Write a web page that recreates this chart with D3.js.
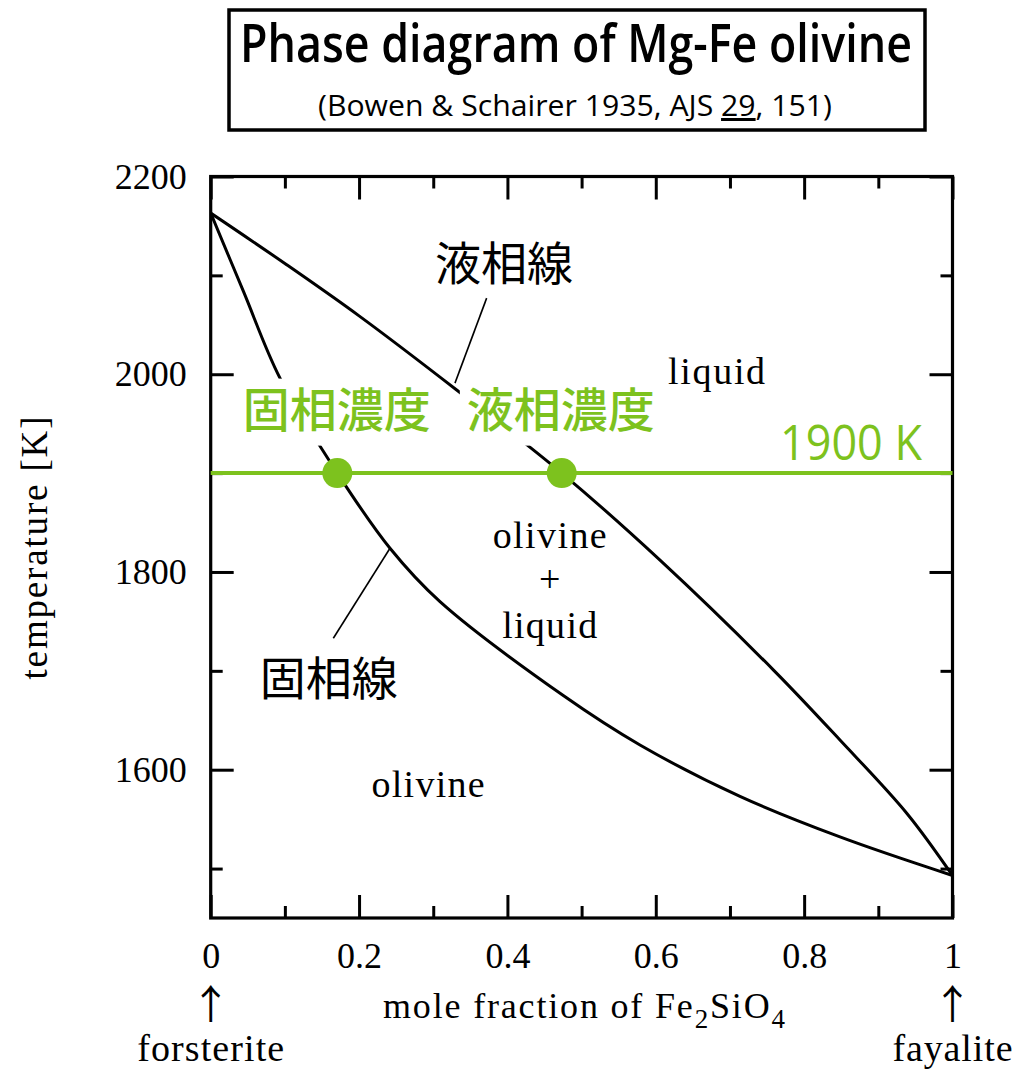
<!DOCTYPE html>
<html><head><meta charset="utf-8">
<script src="https://cdn.jsdelivr.net/npm/d3@7"></script>
<style>html,body{margin:0;padding:0;background:#fff;}</style>
</head><body><svg id="chart" width="1028" height="1071"></svg>
<script>
// ---- data ----
const liquidusX = [0, 0.1, 0.2, 0.3316, 0.4732, 0.6057, 0.7584, 0.8483, 0.9383, 1];
const liquidusT = [2163, 2112, 2059, 1984, 1900, 1812, 1701, 1630, 1556, 1493];
const solidusX = [0, 0.044, 0.0934, 0.1707, 0.2417, 0.3091, 0.4753, 0.5787, 0.7135, 0.8483, 1];
const solidusT = [2163, 2084, 1996, 1900, 1824, 1770, 1675, 1625, 1573, 1532, 1493];
const xMajor = [0, 0.2, 0.4, 0.6, 0.8, 1];
const xTickLabels = ["0", "0.2", "0.4", "0.6", "0.8", "1"];
const xMinor = [0.1, 0.3, 0.5, 0.7, 0.9];
const yMajor = [1600, 1800, 2000, 2200];
const yTickLabels = ["1600", "1800", "2000", "2200"];
const yMinor = [1500, 1700, 1900, 2100];
const isothermT = 1900;
const tieComps = [0.1707, 0.4732];           // solid, liquid composition at 1900 K
const regionLabels = ["liquid", "olivine", "+", "liquid", "olivine"];
const regionX = [0.682, 0.457, 0.457, 0.457, 0.293];
const regionT = [1990, 1824, 1780, 1733, 1572.5];
const curveNames = ["液相線", "固相線"];
const curveNameX = [0.3955, 0.159];
const curveNameT = [2095, 1675.6];
const pointerFrom = [[0.372, 2077], [0.2417, 1824]];
const pointerTo = [[0.3293, 1991], [0.1653, 1733]];
const compNames = ["固相濃度", "液相濃度"];
const compNameX = [0.170, 0.472];
const compNameT = [1947, 1947];

const green = "#7dc21e";
const serif = "'Liberation Serif', 'Times New Roman', serif";
const sans = "'Open Sans', 'Noto Sans', sans-serif";
const cjk = "'Noto Sans CJK JP', 'Noto Sans CJK SC', sans-serif";

const svg = d3.select("#chart");
const x = d3.scaleLinear().domain([0, 1]).range([210.7, 952.5]);
const y = d3.scaleLinear().domain([1450, 2200]).range([918, 176.5]);

// ---- title box ----
svg.append("rect").attr("x", 229).attr("y", 10).attr("width", 696).attr("height", 120)
  .attr("fill", "#fff").attr("stroke", "#000").attr("stroke-width", 3.5);
svg.append("text").attr("x", 576).attr("y", 62).attr("text-anchor", "middle")
  .attr("font-family", sans).attr("font-weight", 600).attr("font-size", 53)
  .attr("textLength", 672).attr("lengthAdjust", "spacingAndGlyphs")
  .text("Phase diagram of Mg-Fe olivine");
const sub = svg.append("text").attr("x", 575).attr("y", 116).attr("text-anchor", "middle")
  .attr("font-family", sans).attr("font-size", 30)
  .attr("textLength", 514).attr("lengthAdjust", "spacingAndGlyphs");
sub.append("tspan").text("(Bowen & Schairer 1935, AJS ");
sub.append("tspan").attr("text-decoration", "underline").text("29");
sub.append("tspan").text(", 151)");

// ---- clip ----
svg.append("clipPath").attr("id", "plotclip").append("rect")
  .attr("x", x(0)).attr("y", y(2200)).attr("width", x(1) - x(0)).attr("height", y(1450) - y(2200));

const plot = svg.append("g").attr("clip-path", "url(#plotclip)");
const line = d3.line().x(d => x(d[0])).y(d => y(d[1])).curve(d3.curveCatmullRom.alpha(0.5));
plot.append("path").datum(liquidusX.map((v, i) => [v, liquidusT[i]]))
  .attr("d", line).attr("fill", "none").attr("stroke", "#000").attr("stroke-width", 3);
plot.append("path").datum(solidusX.map((v, i) => [v, solidusT[i]]))
  .attr("d", line).attr("fill", "none").attr("stroke", "#000").attr("stroke-width", 3);

// pointer lines
pointerFrom.forEach((p, i) => {
  svg.append("line").attr("x1", x(p[0])).attr("y1", y(p[1]))
    .attr("x2", x(pointerTo[i][0])).attr("y2", y(pointerTo[i][1]))
    .attr("stroke", "#000").attr("stroke-width", 1.6);
});

// ---- axes ----
function styleAxis(g) {
  g.select(".domain").remove();
  g.selectAll(".tick line").attr("stroke", "#000").attr("stroke-width", 3);
  g.selectAll(".tick text").attr("fill", "#000");
  g.attr("font-family", serif).attr("font-size", 36);
}
svg.append("g").attr("transform", `translate(0,${y(1450)})`)
  .call(d3.axisBottom(x).tickValues(xMajor).tickFormat((d, i) => xTickLabels[i]).tickSize(-23).tickPadding(24)).call(styleAxis);
svg.append("g").attr("transform", `translate(0,${y(1450)})`)
  .call(d3.axisBottom(x).tickValues(xMinor).tickFormat("").tickSize(-12)).call(styleAxis);
svg.append("g").attr("transform", `translate(0,${y(2200)})`)
  .call(d3.axisTop(x).tickValues(xMajor).tickFormat("").tickSize(-23)).call(styleAxis);
svg.append("g").attr("transform", `translate(0,${y(2200)})`)
  .call(d3.axisTop(x).tickValues(xMinor).tickFormat("").tickSize(-12)).call(styleAxis);
svg.append("g").attr("transform", `translate(${x(0)},0)`)
  .call(d3.axisLeft(y).tickValues(yMajor).tickFormat((d, i) => yTickLabels[i]).tickSize(-23).tickPadding(24)).call(styleAxis);
svg.append("g").attr("transform", `translate(${x(0)},0)`)
  .call(d3.axisLeft(y).tickValues(yMinor).tickFormat("").tickSize(-12)).call(styleAxis);
svg.append("g").attr("transform", `translate(${x(1)},0)`)
  .call(d3.axisRight(y).tickValues(yMajor).tickFormat("").tickSize(-23)).call(styleAxis);
svg.append("g").attr("transform", `translate(${x(1)},0)`)
  .call(d3.axisRight(y).tickValues(yMinor).tickFormat("").tickSize(-12)).call(styleAxis);

// frame
svg.append("rect").attr("x", x(0)).attr("y", y(2200)).attr("width", x(1) - x(0)).attr("height", y(1450) - y(2200))
  .attr("fill", "none").attr("stroke", "#000").attr("stroke-width", 3.2);

// ---- region labels ----
const regionW = [97, 114, 0, 95, 113];
regionLabels.forEach((t, i) => {
  const el = svg.append("text").attr("x", x(regionX[i])).attr("y", y(regionT[i]))
    .attr("text-anchor", "middle").attr("font-family", serif).attr("font-size", 38).text(t);
  if (regionW[i]) el.attr("textLength", regionW[i]).attr("lengthAdjust", "spacing");
});

// curve names
curveNames.forEach((t, i) => {
  svg.append("text").attr("x", x(curveNameX[i])).attr("y", y(curveNameT[i]))
    .attr("text-anchor", "middle").attr("font-family", cjk).attr("font-size", 46).attr("fill", "#000").text(t);
});

// ---- 1900 K isotherm ----
compNames.forEach((t, i) => {
  const cx = x(compNameX[i]), cy = y(compNameT[i]);
  svg.append("rect").attr("x", cx - 101).attr("y", cy - 48).attr("width", 202).attr("height", 67).attr("fill", "#fff");
  svg.append("text").attr("x", cx).attr("y", cy).attr("text-anchor", "middle")
    .attr("font-family", cjk).attr("font-weight", 500).attr("font-size", 47).attr("fill", green).text(t);
});
svg.append("line").attr("x1", x(0)).attr("x2", x(1)).attr("y1", y(isothermT)).attr("y2", y(isothermT))
  .attr("stroke", green).attr("stroke-width", 4);
svg.selectAll("circle.tie").data(tieComps).join("circle").attr("class", "tie")
  .attr("cx", d => x(d)).attr("cy", y(isothermT)).attr("r", 15).attr("fill", green);
svg.append("text").attr("x", 922).attr("y", 460).attr("text-anchor", "end")
  .attr("font-family", sans).attr("font-weight", 500).attr("font-size", 50).attr("fill", green)
  .attr("textLength", 142).attr("lengthAdjust", "spacingAndGlyphs").text("1900 K");

// ---- axis titles ----
const xt = svg.append("text").attr("x", 584).attr("y", 1018).attr("text-anchor", "middle")
  .attr("font-family", serif).attr("font-size", 36).attr("textLength", 402).attr("lengthAdjust", "spacing");
xt.append("tspan").text("mole fraction of Fe");
xt.append("tspan").attr("dy", 10).attr("font-size", 27).text("2");
xt.append("tspan").attr("dy", -10).text("SiO");
xt.append("tspan").attr("dy", 10).attr("font-size", 27).text("4");

svg.append("text").attr("transform", "translate(47,548) rotate(-90)").attr("text-anchor", "middle")
  .attr("font-family", serif).attr("font-size", 37).attr("textLength", 263).attr("lengthAdjust", "spacing")
  .text("temperature [K]");

// end-member labels
[[0, "forsterite", 147], [1, "fayalite", 120]].forEach(([v, name, w]) => {
  svg.append("text").attr("x", x(v)).attr("y", 1019).attr("text-anchor", "middle")
    .attr("font-family", cjk).attr("font-size", 40).text("↑");
  svg.append("text").attr("x", x(v)).attr("y", 1061).attr("text-anchor", "middle")
    .attr("font-family", serif).attr("font-size", 38).attr("textLength", w).attr("lengthAdjust", "spacing").text(name);
});
</script></body></html>
